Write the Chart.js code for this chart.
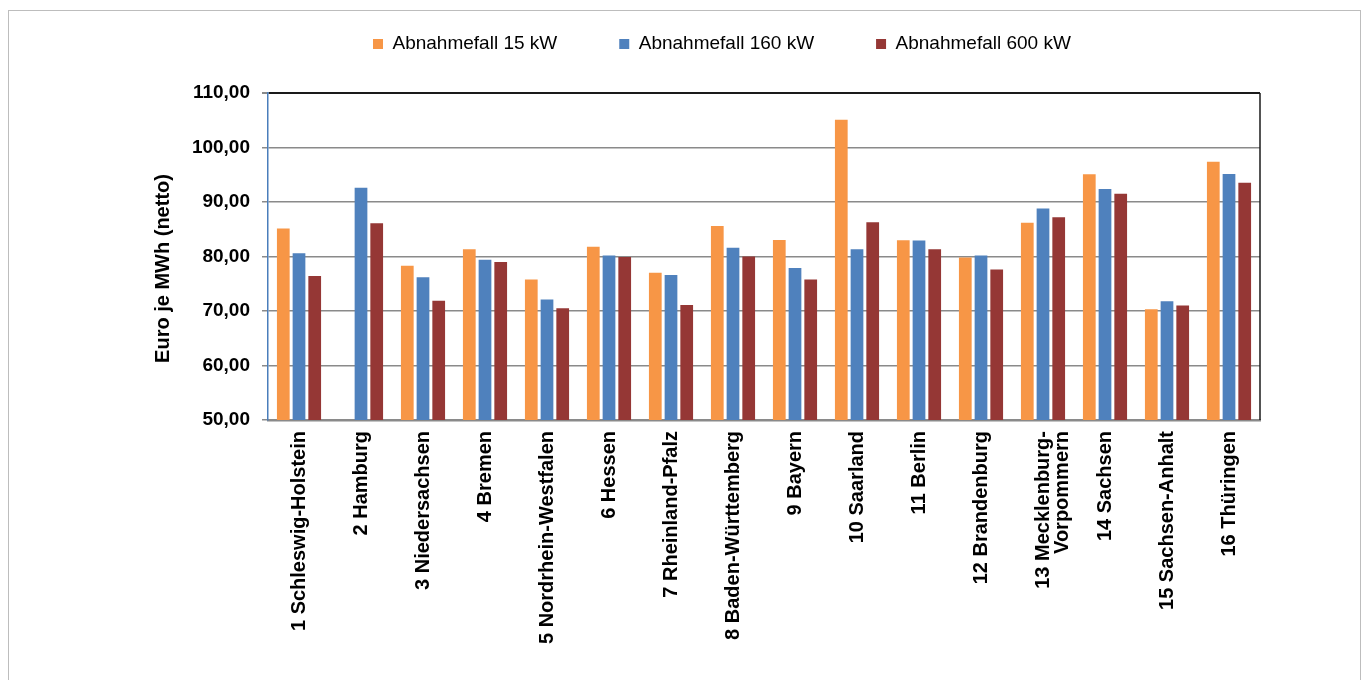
<!DOCTYPE html>
<html>
<head>
<meta charset="utf-8">
<script src="https://cdn.jsdelivr.net/npm/chart.js@4.4.1/dist/chart.umd.min.js"></script>
<style>
  html, body { margin: 0; padding: 0; background: #fff; overflow: hidden; }
  #wrap { position: relative; width: 1370px; height: 680px; }
  #frame { position: absolute; left: 8px; top: 10px; width: 1353px; height: 720px; border: 1px solid #bdbdbd; box-sizing: border-box; }
  canvas { position: absolute; left: 0; top: 0; }
</style>
</head>
<body>
<div id="wrap">
  <div id="frame"></div>
  <canvas id="c" width="1370" height="680"></canvas>
</div>
<script>
const categories = [
  '1 Schleswig-Holstein', '2 Hamburg', '3 Niedersachsen', '4 Bremen',
  '5 Nordrhein-Westfalen', '6 Hessen', '7 Rheinland-Pfalz', '8 Baden-Württemberg',
  '9 Bayern', '10 Saarland', '11 Berlin', '12 Brandenburg',
  ['13 Mecklenburg-', 'Vorpommern'], '14 Sachsen', '15 Sachsen-Anhalt', '16 Thüringen'
];
const seriesNames = ['Abnahmefall 15 kW', 'Abnahmefall 160 kW', 'Abnahmefall 600 kW'];
const values15 = [85.15, null, 78.3, 81.35, 75.8, 81.8, 77.0, 85.6, 83.05, 105.1, 83.0, 79.8, 86.2, 95.1, 70.3, 97.4];
const values160 = [80.6, 92.6, 76.2, 79.4, 72.1, 80.2, 76.6, 81.6, 77.9, 81.35, 82.95, 80.2, 88.8, 92.4, 71.8, 95.15];
const values600 = [76.4, 86.1, 71.9, 79.0, 70.5, 79.9, 71.1, 80.0, 75.8, 86.3, 81.35, 77.6, 87.2, 91.5, 71.0, 93.55];
const yTickValues = [50, 60, 70, 80, 90, 100, 110];
const yAxisTitle = 'Euro je MWh (netto)';

const FONT = '"Liberation Sans", Arial, sans-serif';
const colors = ['#F79646', '#4F81BD', '#953735'];

const layoutFix = {
  id: 'layoutFix',
  afterInit(chart) {
    const lg = chart.legend;
    const orig = lg.fit;
    lg.fit = function () { orig.call(this); this.height = 93; };
  },
  afterLayout(chart) {
    const lg = chart.legend;
    const pad = lg.options.labels.padding;
    const w = lg.right - lg.left;
    lg.left = 373 - pad;
    lg.right = lg.left + w;
    lg.top = 44 - pad - 9.5;
  },
  afterDraw(chart) {
    const ctx = chart.ctx;
    const a = chart.chartArea;
    ctx.save();
    ctx.strokeStyle = '#1a1a1a';
    ctx.lineWidth = 1.5;
    ctx.beginPath();
    ctx.moveTo(a.right, a.top);
    ctx.lineTo(a.right, a.bottom);
    ctx.stroke();
    // y-axis title
    ctx.translate(163, (a.top + a.bottom) / 2 + 12);
    ctx.rotate(-Math.PI / 2);
    ctx.fillStyle = '#000';
    ctx.font = 'bold 20px ' + FONT;
    ctx.textAlign = 'center';
    ctx.textBaseline = 'middle';
    ctx.fillText(yAxisTitle, 0, 0);
    ctx.restore();
  }
};

new Chart(document.getElementById('c'), {
  type: 'bar',
  data: {
    labels: categories,
    datasets: [
      { label: seriesNames[0], data: values15, backgroundColor: colors[0] },
      { label: seriesNames[1], data: values160, backgroundColor: colors[1] },
      { label: seriesNames[2], data: values600, backgroundColor: colors[2] }
    ]
  },
  options: {
    responsive: false,
    animation: false,
    devicePixelRatio: 1,
    layout: { padding: { left: 140, right: 110, top: 0, bottom: 10 } },
    datasets: { bar: { categoryPercentage: 0.76, barPercentage: 0.81 } },
    plugins: {
      legend: {
        position: 'top',
        align: 'start',
        labels: {
          boxWidth: 10, boxHeight: 10, padding: 62,
          color: '#000',
          font: { family: FONT, size: 19 }
        }
      },
      tooltip: { enabled: false }
    },
    scales: {
      x: {
        grid: { display: false, drawTicks: false },
        border: { display: true, color: '#8a8a8a', width: 2.5 },
        ticks: {
          autoSkip: false, maxRotation: 90, minRotation: 90, padding: 11,
          color: '#000',
          font: { family: FONT, size: 20, weight: 'bold', lineHeight: 0.95 }
        },
        afterFit(scale) { scale.height = 250; }
      },
      y: {
        min: 50, max: 110,
        afterBuildTicks(scale) { scale.ticks = yTickValues.map(v => ({ value: v })); },
        grid: {
          color: ctx => (ctx.tick && ctx.tick.value === 110) ? '#1a1a1a' : '#8a8a8a',
          lineWidth: ctx => (ctx.tick && ctx.tick.value === 110) ? 2 : 1.5,
          tickLength: 6,
          tickColor: '#8a8a8a'
        },
        border: { display: true, color: '#4a7ebb', width: 1.5 },
        ticks: {
          padding: 12,
          color: '#000',
          font: { family: FONT, size: 19, weight: 'bold' },
          callback: v => v.toFixed(2).replace('.', ',')
        },
        title: { display: false },
        afterFit(scale) { scale.width = 128; }
      }
    }
  },
  plugins: [layoutFix]
});
</script>
</body>
</html>
